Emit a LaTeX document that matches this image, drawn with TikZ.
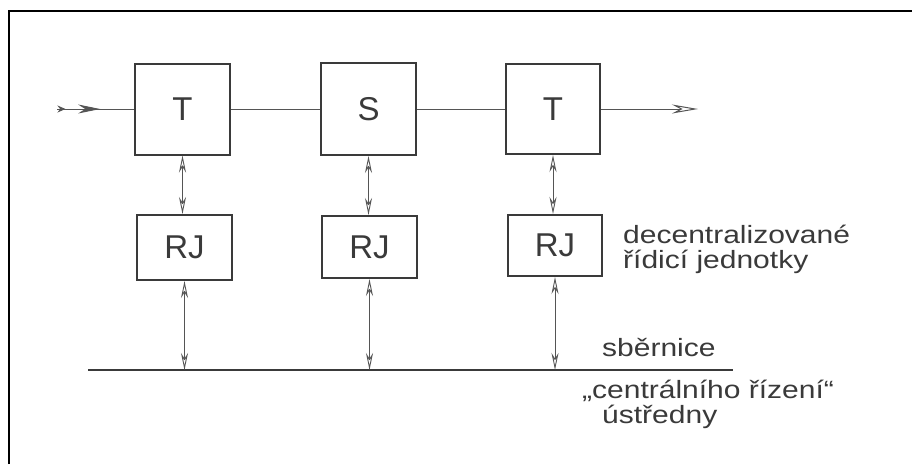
\documentclass[tikz,border=0pt]{standalone}
\usepackage{fontspec}
\setmainfont{Liberation Sans}
\newfontfamily\widefont[FakeStretch=1.2]{Liberation Sans}
\usetikzlibrary{arrows.meta,decorations.markings}
\definecolor{ink}{HTML}{3A3A3A}
\definecolor{linec}{HTML}{555555}
\tikzset{
  blk/.style={draw=ink, line width=2pt, inner sep=0pt, font=\fontsize{33}{36}\selectfont, text=ink},
  conn/.style={draw=linec, line width=1pt},
  biarrow/.style={draw=linec, line width=0.9pt, {Stealth[length=17pt,width=7pt,open]}-{Stealth[length=17pt,width=7pt,open]}},
  lbl/.style={anchor=base west, inner sep=0pt, text=ink, font=\widefont\fontsize{25}{25}\selectfont, align=left},
  bus/.style={draw=ink, line width=2.6pt},
  frameln/.style={draw=black, line width=2pt}
}
\begin{document}
\begin{tikzpicture}[x=1pt,y=-1pt]
\useasboundingbox (0,0) rectangle (912,464);
\fill[white] (0,0) rectangle (912,464);
% frame (top and left edges)
\draw[frameln] (9,464) -- (9,11) -- (912,11);
% top row
\node[blk, minimum width=95pt, minimum height=91pt] (T1) at (182.5,109) {T};
\node[blk, minimum width=95pt, minimum height=92pt] (S)  at (368.5,109) {S};
\node[blk, minimum width=94pt, minimum height=90pt] (T2) at (553,109) {T};
% control units
\node[blk, minimum width=95pt, minimum height=65pt] (RJ1) at (184.5,247.5) {RJ};
\node[blk, minimum width=95pt, minimum height=62pt] (RJ2) at (369.5,247) {RJ};
\node[blk, minimum width=94pt, minimum height=61pt] (RJ3) at (555,245.5) {RJ};
% signal path
\coordinate (in) at (57,109);
\coordinate (out) at (698,109);
\draw[conn, postaction={decorate}, decoration={markings,
  mark=at position 0.11 with {\arrow[linec]{Stealth[length=8pt,width=7pt]}},
  mark=at position 0.56 with {\arrow[linec]{Stealth[length=22pt,width=9pt]}}}] (in) -- (T1.west);
\draw[conn] (T1.east) -- (S.west);
\draw[conn] (S.east) -- (T2.west);
\draw[conn, -{Stealth[length=26pt,width=9pt,open]}] (T2.east) -- (out);
% bus
\coordinate (busL) at (88,370);
\coordinate (busR) at (733,370);
\draw[bus] (busL) -- (busR);
% vertical links
\draw[biarrow] (T1.south) -- (T1.south |- RJ1.north);
\draw[biarrow] (S.south) -- (S.south |- RJ2.north);
\draw[biarrow] (T2.south) -- (T2.south |- RJ3.north);
\draw[biarrow] (RJ1.south) -- (RJ1.south |- busL);
\draw[biarrow] (RJ2.south) -- (RJ2.south |- busL);
\draw[biarrow] (RJ3.south) -- (RJ3.south |- busL);
% labels
\node[lbl] (l1) at (623,268) {decentralizované\\řídicí jednotky};
\node[lbl] (l3) at (602,356) {sběrnice};
\node[lbl] (l4) at (582,423) {„centrálního řízení“\\\hspace*{20pt}ústředny};
\end{tikzpicture}
\end{document}
